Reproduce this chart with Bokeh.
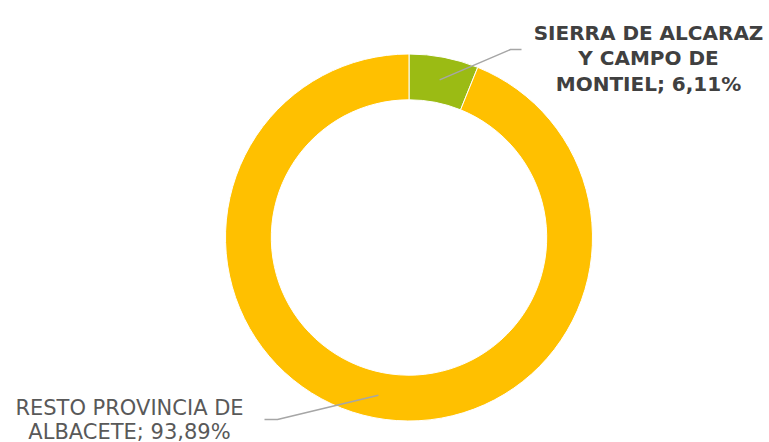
import math
from bokeh.plotting import figure
from bokeh.models import Range1d, ColumnDataSource
from bokeh.core.properties import value
from bokeh.embed import file_html
from bokeh.resources import INLINE

# ---- data ----
categories = [["SIERRA DE ALCARAZ", "Y CAMPO DE", "MONTIEL"], ["RESTO PROVINCIA DE", "ALBACETE"]]
shares = [6.11, 93.89]
colors = ["#9BBB14", "#FFC000"]

# ---- layout (page pixels, y measured up from page bottom) ----
W, H = 769, 442
cx, cy = 408.5, H - 237
r_in, r_out = 137.7, 183.5

total = sum(shares)
starts, ends, mids = [], [], []
cur = 90.0  # start at top, go clockwise
for s in shares:
    sweep = 360.0 * s / total
    end = cur
    start = cur - sweep
    starts.append(math.radians(start))
    ends.append(math.radians(end))
    mids.append(math.radians((start + end) / 2))
    cur = start

p = figure(width=W, height=H, output_backend="svg", toolbar_location=None,
           x_range=Range1d(0, W), y_range=Range1d(0, H), min_border=0)
p.axis.visible = False
p.grid.visible = False
p.outline_line_color = None
p.background_fill_color = "white"

src = ColumnDataSource(dict(start=starts, end=ends, color=colors))
p.annular_wedge(x=cx, y=cy, inner_radius=r_in, outer_radius=r_out,
                start_angle="start", end_angle="end", fill_color="color",
                line_color="white", line_width=1, source=src)

# leader lines
r_mid = (r_in + r_out) / 2
elbows = [((510, H - 49), (521, H - 49)), ((277, H - 419), (264, H - 419))]
for m, (e1, e2) in zip(mids, elbows):
    x0 = cx + r_mid * math.cos(m)
    y0 = cy + r_mid * math.sin(m)
    p.line([x0, e1[0], e2[0]], [y0, e1[1], e2[1]], line_color="#A6A6A6", line_width=1.5)

# labels (one text per line for exact spacing)
def pct(s):
    return ("%.2f" % s).replace(".", ",") + "%"

label_specs = [
    dict(x=648, base=32, step=25.5, style="bold", size="20px", color="#404040"),
    dict(x=129, base=407, step=24, style="normal", size="21px", color="#595959"),
]
for lines, s, spec in zip(categories, shares, label_specs):
    lines = list(lines)
    lines[-1] = f"{lines[-1]}; {pct(s)}"
    ys = [H - (spec["base"] + i * spec["step"]) for i in range(len(lines))]
    p.text(x=[spec["x"]] * len(lines), y=ys, text=lines, text_font=value("DejaVu Sans"),
           text_font_style=spec["style"], text_font_size=spec["size"], text_color=spec["color"],
           text_align="center", text_baseline="alphabetic")

open("out.html", "w").write(file_html(p, INLINE))
